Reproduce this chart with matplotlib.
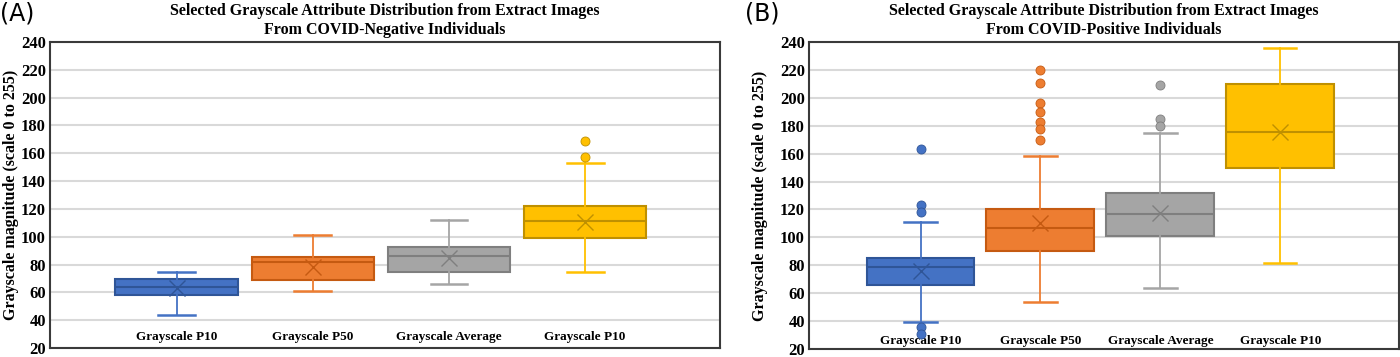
import matplotlib
matplotlib.use('Agg')
import matplotlib.pyplot as plt

# Categorias
CATS = ["Grayscale P10", "Grayscale P50", "Grayscale Average", "Grayscale P10"]

# COVID-negativo
NEG_LO = [44, 61, 66, 75]
NEG_Q1 = [58, 69, 74.5, 99]
NEG_MED = [63.5, 81.5, 86.5, 111.5]
NEG_Q3 = [69.5, 85.5, 92.5, 122]
NEG_HI = [74.5, 101, 112, 153]
NEG_MEAN = [63, 78, 84.5, 110.5]
NEG_FLIERS = [[], [], [], [157.5, 168.5]]

# COVID-positivo
POS_LO = [39, 53.5, 64, 81.5]
POS_Q1 = [66, 90.5, 101, 150]
POS_MED = [79, 107, 117, 175.5]
POS_Q3 = [85.5, 120, 131.5, 210]
POS_HI = [111, 158, 175, 236]
POS_MEAN = [76, 110, 117.5, 175.5]
POS_FLIERS = [[163, 123, 118, 35.5, 31],
              [220, 210.5, 196.5, 189.5, 182.5, 177.5, 169.5],
              [209.5, 185, 179.5],
              []]

YTICKS = list(range(20, 241, 20))

# Cores (paleta Excel)
FACE = ["#4472C4", "#ED7D31", "#A5A5A5", "#FFC000"]
EDGE = ["#2F5597", "#C55A11", "#7F7F7F", "#BF9000"]

SERIF = "Liberation Serif"


def draw_panel(ax, lo, q1, med, q3, hi, mean, fliers, title, pad_x):
    for i in range(len(CATS)):
        st = [dict(whislo=lo[i], q1=q1[i], med=med[i], q3=q3[i], whishi=hi[i],
                   mean=mean[i], fliers=fliers[i], label=CATS[i])]
        ax.bxp(st, positions=[i + 1], widths=0.9, capwidths=0.27,
               patch_artist=True, showmeans=True, manage_ticks=False,
               boxprops=dict(facecolor=FACE[i], edgecolor=EDGE[i], linewidth=1.5),
               medianprops=dict(color=EDGE[i], linewidth=1.5),
               whiskerprops=dict(color=FACE[i], linewidth=1.3),
               capprops=dict(color=FACE[i], linewidth=1.8),
               meanprops=dict(marker='x', markeredgecolor=EDGE[i],
                              markersize=11, markeredgewidth=1.0),
               flierprops=dict(marker='o', markerfacecolor=FACE[i],
                               markeredgecolor=EDGE[i], markersize=6.5,
                               markeredgewidth=0.6),
               zorder=3)

    ax.set_xlim(0.07, 4.99)
    ax.set_ylim(20, 240)
    ax.set_yticks(YTICKS)
    ax.set_xticks(range(1, len(CATS) + 1))
    ax.set_xticklabels(CATS, fontfamily=SERIF, fontweight='bold', fontsize=9.5)
    ax.tick_params(axis='x', length=0, pad=pad_x)
    ax.tick_params(axis='y', length=0, pad=3)
    for lb in ax.get_yticklabels():
        lb.set_fontfamily(SERIF)
        lb.set_fontweight('bold')
        lb.set_fontsize(12)

    ax.grid(axis='y', color='#D9D9D9', linewidth=1.5, zorder=0)
    ax.set_axisbelow(True)
    for s in ax.spines.values():
        s.set_color('#3A3A3A')
        s.set_linewidth(1.5)

    ax.set_ylabel("Grayscale magnitude (scale 0 to 255)", fontfamily=SERIF,
                  fontweight='bold', fontsize=11.5)
    ax.set_title(title, fontfamily=SERIF, fontweight='bold', fontsize=11.5,
                 pad=6, linespacing=1.2)


fig = plt.figure(figsize=(14, 3.57), dpi=100)
ax_a = fig.add_axes([50 / 1400, 1 - 348 / 357, 670 / 1400, 306 / 357])
ax_b = fig.add_axes([809 / 1400, 1 - 349 / 357, 590 / 1400, 307 / 357])

draw_panel(ax_a, NEG_LO, NEG_Q1, NEG_MED, NEG_Q3, NEG_HI, NEG_MEAN, NEG_FLIERS,
           "Selected Grayscale Attribute Distribution from Extract Images\n"
           "From COVID-Negative Individuals", -12)
draw_panel(ax_b, POS_LO, POS_Q1, POS_MED, POS_Q3, POS_HI, POS_MEAN, POS_FLIERS,
           "Selected Grayscale Attribute Distribution from Extract Images\n"
           "From COVID-Positive Individuals", -10)

ax_a.yaxis.set_label_coords(-0.047, 0.5)
ax_b.yaxis.set_label_coords(-0.069, 0.5)

fig.text(0.0, 0.995, "(A)", ha='left', va='top', fontsize=17, fontfamily='DejaVu Sans')
fig.text(745 / 1400, 0.995, "(B)", ha='left', va='top', fontsize=17, fontfamily='DejaVu Sans')

fig.savefig("out.png", dpi=100)
plt.close(fig)
